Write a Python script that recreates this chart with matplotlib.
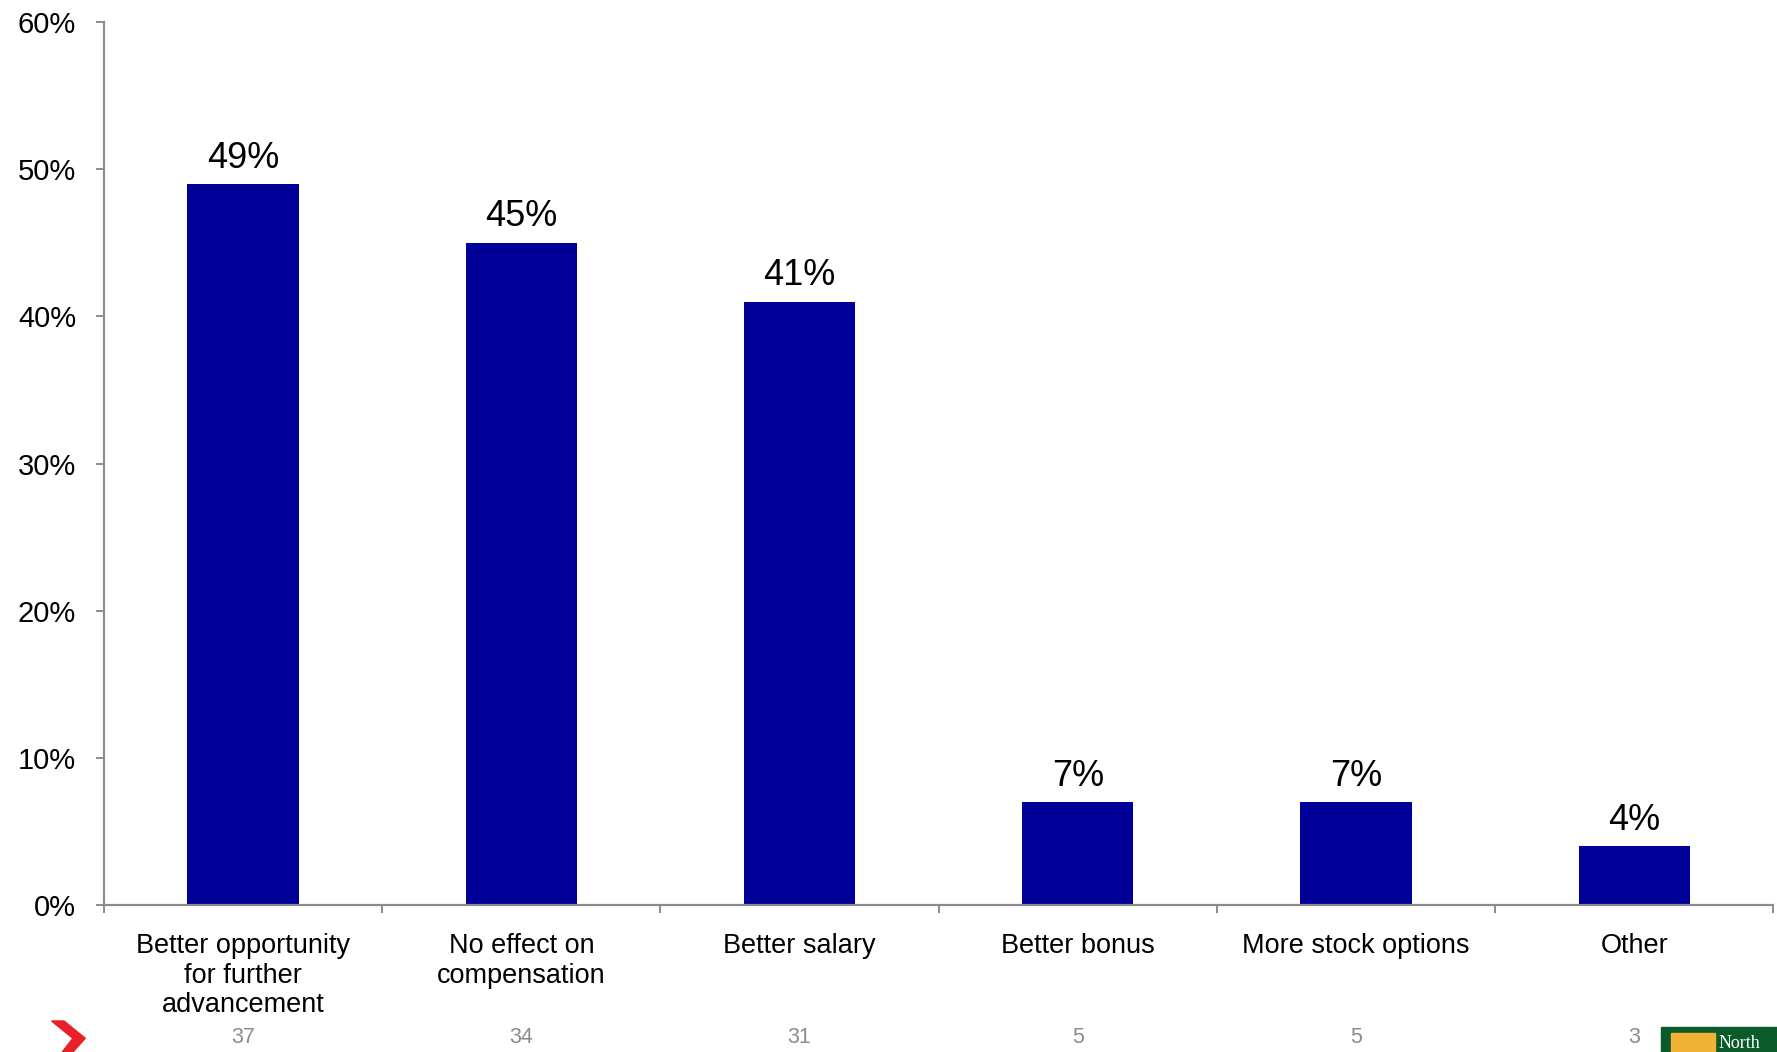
import matplotlib

matplotlib.use("Agg")

import matplotlib.pyplot as plt
from matplotlib.patches import Polygon, Rectangle
from matplotlib.ticker import FixedLocator, PercentFormatter

categories = [
    "Better opportunity\nfor further\nadvancement",
    "No effect on\ncompensation",
    "Better salary",
    "Better bonus",
    "More stock options",
    "Other",
]
shares = [49, 45, 41, 7, 7, 4]
counts = [37, 34, 31, 5, 5, 3]

BAR_COLOR = "#000099"
AXIS_COLOR = "#8c8c8c"

plt.rcParams["font.family"] = ["Liberation Sans", "DejaVu Sans"]

fig = plt.figure(figsize=(17.77, 10.52), dpi=100)
ax = fig.add_axes([0.0585, 0.1397, 0.9395, 0.8393])

x = list(range(len(categories)))
bars = ax.bar(x, shares, width=0.4, color=BAR_COLOR)

for rect, val in zip(bars, shares):
    ax.annotate(f"{val}%", (rect.get_x() + rect.get_width() / 2, val),
                xytext=(0, 6), textcoords="offset points",
                ha="center", va="bottom", fontsize=26, color="black")

ax.set_xlim(-0.5, len(categories) - 0.5)
ax.set_ylim(0, 60)
ax.yaxis.set_major_locator(FixedLocator(range(0, 61, 10)))
ax.yaxis.set_major_formatter(PercentFormatter(decimals=0))

# category labels sit below the axis, boundary ticks on the axis itself
ax.set_xticks([i - 0.5 for i in range(len(categories) + 1)])
ax.set_xticklabels([])
for i, (label, n) in enumerate(zip(categories, counts)):
    ax.text(i, -1.9, label, ha="center", va="top", fontsize=19.5,
            linespacing=1.18)
    ax.text(i, -9.0, str(n), ha="center", va="center", fontsize=15.5,
            color="#8c8c8c")

for side in ("top", "right"):
    ax.spines[side].set_visible(False)
for side in ("left", "bottom"):
    ax.spines[side].set_color(AXIS_COLOR)
    ax.spines[side].set_linewidth(1.6)

ax.tick_params(axis="both", direction="out", length=6, width=1.4,
               color=AXIS_COLOR)
ax.tick_params(axis="y", labelsize=21, pad=14)

# corner marks of the slide template
fig.patches.append(Polygon(
    [(0.029, 0.0295), (0.036, 0.0295), (0.048, 0.013), (0.041, 0.0),
     (0.035, 0.0), (0.041, 0.013)],
    closed=True, transform=fig.transFigure, color="#e8202a", zorder=5))
fig.patches.append(Rectangle((0.935, 0.0), 0.065, 0.024,
                             transform=fig.transFigure, color="#0b5a2a",
                             zorder=5))
fig.patches.append(Rectangle((0.9405, 0.0), 0.0245, 0.018,
                             transform=fig.transFigure, color="#f2b233",
                             zorder=6))
fig.text(0.967, 0.0, "North", fontsize=13, color="white",
         family="Liberation Serif", ha="left", va="bottom", zorder=7)

fig.savefig("out.png", dpi=100)
